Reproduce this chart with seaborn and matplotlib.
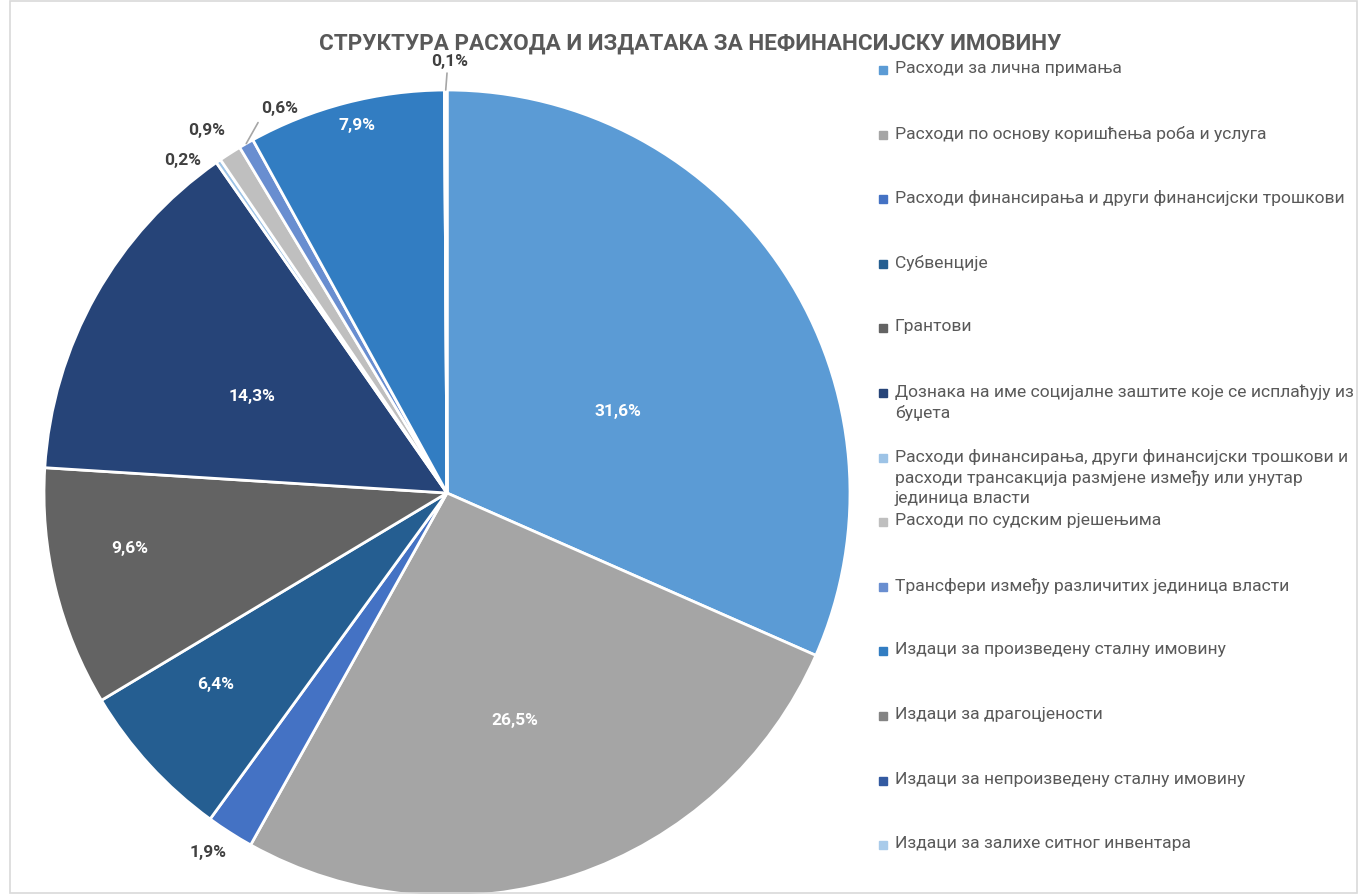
import numpy as np
import matplotlib
matplotlib.use("Agg")
import matplotlib.pyplot as plt
from matplotlib.patches import Rectangle
import seaborn as sns

TITLE = "СТРУКТУРА РАСХОДА И ИЗДАТАКА ЗА НЕФИНАНСИЈСКУ ИМОВИНУ"

categories = [
    "Расходи за лична примања",
    "Расходи по основу коришћења роба и услуга",
    "Расходи финансирања и други финансијски трошкови",
    "Субвенције",
    "Грантови",
    "Дознака на име социјалне заштите које се исплаћују из\nбуџета",
    "Расходи финансирања, други финансијски трошкови и\nрасходи трансакција размјене између или унутар\nјединица власти",
    "Расходи по судским рјешењима",
    "Трансфери између различитих јединица власти",
    "Издаци за произведену сталну имовину",
    "Издаци за драгоцјености",
    "Издаци за непроизведену сталну имовину",
    "Издаци за залихе ситног инвентара",
]
shares = [31.6, 26.5, 1.9, 6.4, 9.6, 14.3, 0.2, 0.9, 0.6, 7.9, 0.0, 0.1, 0.0]

colors = ["#5B9BD5", "#A5A5A5", "#4472C4", "#255E91", "#636363", "#264478",
          "#9DC3E6", "#BFBFBF", "#698ED0", "#327DC2", "#848484", "#335AA1",
          "#A9CBEA"]

# label placement (radius as fraction of pie radius, angular nudge in degrees)
label_r = [0.47, 0.59, 1.07, 0.745, 0.80, 0.54, 1.055, 1.08, 1.04, 0.94, 0, 1.07, 0]
label_shift = [7.6, 2.0, 1.0, 2.8, 3.7, -3.0, -3.9, -1.0, 6.4, 0.8, 0, 0.5, 0]

sns.set_theme(style="white")
plt.rcParams["font.family"] = ["Roboto", "DejaVu Sans"]

W, H = 1362, 894
fig = plt.figure(figsize=(W / 100, H / 100), dpi=100)
fig.patch.set_facecolor("white")

# pie axes: centre (447, 493) px, radius 403 px
cx, cy, R = 447, 493, 403
ax = fig.add_axes([(cx - R) / W, (H - cy - R) / H, 2 * R / W, 2 * R / H])
ax.pie(shares, colors=colors, startangle=90, counterclock=False, radius=1,
       wedgeprops=dict(edgecolor="white", linewidth=2))
ax.set_xlim(-1, 1)
ax.set_ylim(-1, 1)
ax.set_aspect("equal")
ax.axis("off")

cum = np.cumsum([0] + shares[:-1])
for i, v in enumerate(shares):
    if v <= 0:
        continue
    mid = (cum[i] + v / 2) / 100 * 360
    ang = np.radians(mid + label_shift[i])
    r = label_r[i]
    x, y = r * np.sin(ang), r * np.cos(ang)
    txt = f"{v:.1f}%".replace(".", ",")
    inside = r < 1
    ax.text(x, y, txt, ha="center", va="center", fontsize=12.5, fontweight="bold",
            color="white" if inside else "#404040", clip_on=False)
    if i in (8, 11):
        a0 = np.radians(mid)
        ax.plot([np.sin(a0) * 1.0, np.sin(a0) * 1.0 + (x - np.sin(a0)) * 0.35],
                [np.cos(a0) * 1.0, np.cos(a0) * 1.0 + (y - np.cos(a0)) * 0.6],
                color="#A6A6A6", lw=1.2, clip_on=False)

fig.text(690 / W, 1 - 44 / H, TITLE, ha="center", va="center", fontsize=16.2,
         fontweight="bold", color="#595959")

# legend
y0, step = 70, 64.6
for i, lab in enumerate(categories):
    yc = y0 + i * step
    fig.patches.append(Rectangle((879 / W, 1 - (yc + 4) / H), 8 / W, 8 / H,
                                 transform=fig.transFigure, color=colors[i]))
    fig.text(895 / W, 1 - (yc - 9) / H, lab, ha="left", va="top", fontsize=12.6,
             color="#595959", linespacing=1.42)

fig.patches.append(Rectangle((10 / W, 1 / H), (1357 - 10) / W, 892 / H,
                             transform=fig.transFigure, fill=False,
                             edgecolor="#D9D9D9", lw=1.2))

fig.savefig("out.png", dpi=100, facecolor="white")
